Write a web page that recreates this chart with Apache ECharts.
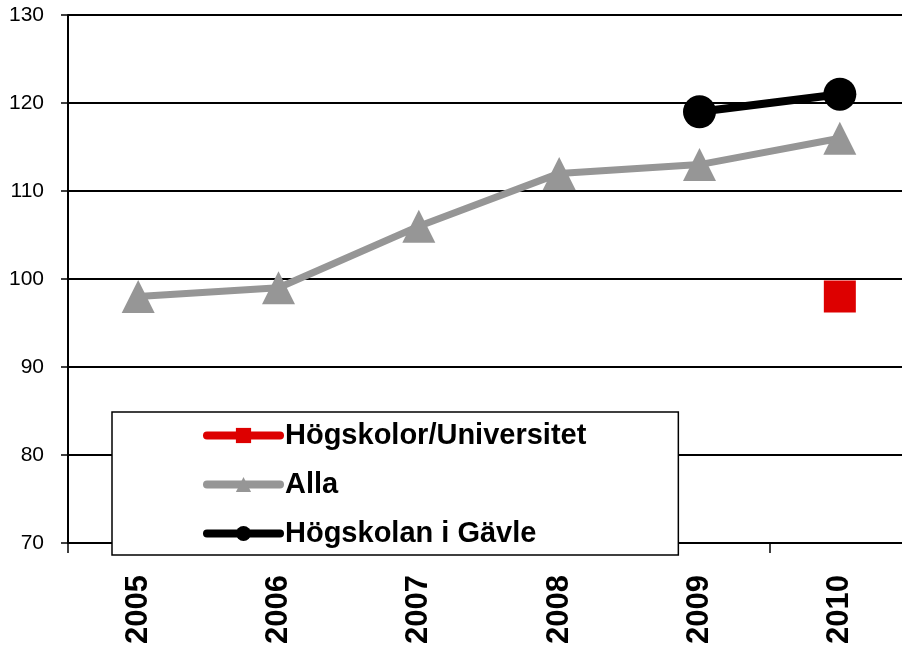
<!DOCTYPE html>
<html>
<head>
<meta charset="utf-8">
<script src="https://cdn.jsdelivr.net/npm/echarts@6/dist/echarts.min.js"></script>
<style>
  html, body { margin: 0; padding: 0; background: #fff; overflow: hidden; }
  /* the plot area runs a little past the right edge of the picture */
  #chart { width: 910px; height: 650px; }
</style>
</head>
<body>
<div id="chart"></div>
<script>
// years on the x axis
var years = ['2005', '2006', '2007', '2008', '2009', '2010']
// index values per series
var hogskolor = [null, null, null, null, null, 98]
var alla = [98, 99, 106, 112, 113, 116]
var gavle = [null, null, null, null, 119, 121]

var chart = echarts.init(document.getElementById('chart'))
var font = '"Liberation Sans", Arial, sans-serif'

chart.setOption({
  backgroundColor: '#fff',
  animation: false,
  grid: {
    left: 68,
    top: 15,
    right: 0,
    bottom: 107
  },
  legend: {
    orient: 'vertical',
    left: 112,
    top: 412,
    padding: [9, 92, 7, 91],
    itemGap: 20,
    itemWidth: 73,
    itemHeight: 19,
    itemTextGap: 6,
    backgroundColor: '#fff',
    borderColor: '#000',
    borderWidth: 1.5,
    borderRadius: 0,
    z: 10,
    lineStyle: { width: 8, cap: 'round' },
    textStyle: {
      fontFamily: font,
      fontSize: 29,
      fontWeight: 'bold',
      color: '#000',
      lineHeight: 29
    },
    data: ['Högskolor/Universitet', 'Alla', 'Högskolan i Gävle']
  },
  xAxis: {
    type: 'category',
    data: years,
    boundaryGap: true,
    axisLine: { lineStyle: { color: '#000', width: 2 } },
    axisTick: { show: true, length: 10, lineStyle: { color: '#000', width: 1.5 } },
    axisLabel: {
      rotate: 90,
      margin: 32,
      fontFamily: font,
      fontSize: 31,
      fontWeight: 'bold',
      color: '#000'
    },
    splitLine: { show: false }
  },
  yAxis: {
    type: 'value',
    min: 70,
    max: 130,
    interval: 10,
    axisLine: { show: true, lineStyle: { color: '#000', width: 2 } },
    axisTick: { show: true, length: 7, lineStyle: { color: '#000', width: 1.5 } },
    axisLabel: {
      margin: 24,
      fontFamily: font,
      fontSize: 21,
      color: '#000'
    },
    splitLine: { show: true, lineStyle: { color: '#000', width: 2 } }
  },
  series: [
    {
      name: 'Högskolor/Universitet',
      type: 'line',
      data: hogskolor,
      symbol: 'rect',
      symbolSize: 32,
      color: '#dd0000',
      lineStyle: { color: '#dd0000', width: 7 },
      itemStyle: { color: '#dd0000' },
      z: 2
    },
    {
      name: 'Alla',
      type: 'line',
      data: alla,
      symbol: 'triangle',
      symbolSize: 33,
      color: '#969696',
      lineStyle: { color: '#969696', width: 7 },
      itemStyle: { color: '#969696' },
      z: 3
    },
    {
      name: 'Högskolan i Gävle',
      type: 'line',
      data: gavle,
      symbol: 'circle',
      symbolSize: 33,
      color: '#000',
      lineStyle: { color: '#000', width: 8 },
      itemStyle: { color: '#000' },
      z: 4
    }
  ]
})
</script>
</body>
</html>
